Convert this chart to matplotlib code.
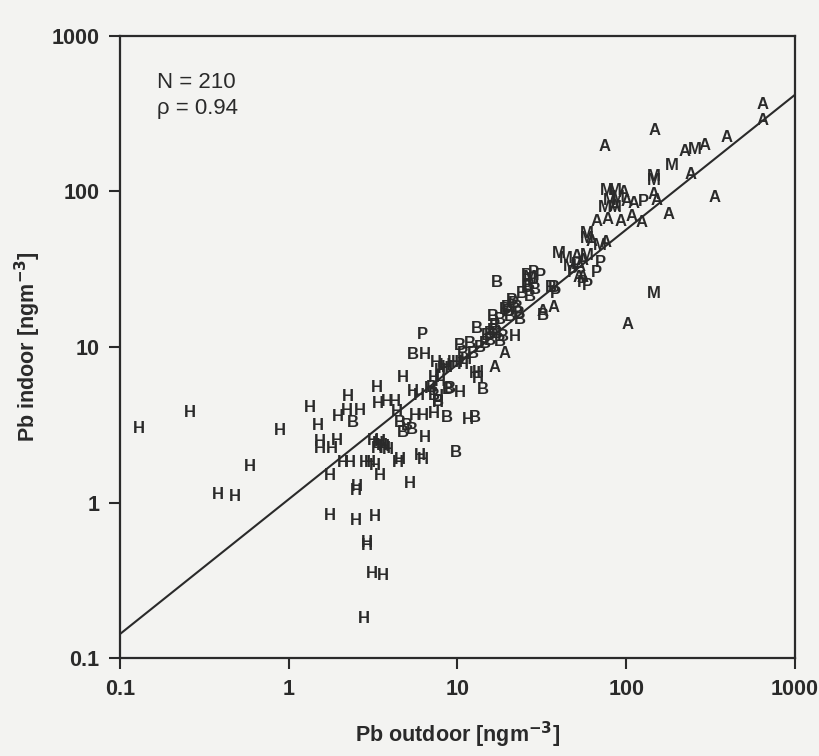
import matplotlib
matplotlib.use("Agg")
import matplotlib.pyplot as plt
from matplotlib.ticker import FixedLocator, FixedFormatter, NullLocator
import numpy as np

plt.rcParams['font.family'] = ['Liberation Sans', 'DejaVu Sans']

# ---- data (Pb outdoor, Pb indoor) per microenvironment letter ----
H_x = [0.13, 0.26, 0.38, 0.48, 0.59, 0.89, 1.34, 1.49, 1.53, 1.53, 1.80, 1.93, 1.96, 2.21, 2.64,
       2.24, 3.33, 4.75, 3.38, 3.82, 4.26, 4.38, 1.75, 2.1, 2.3, 2.83, 3.03, 3.24, 3.47, 2.54,
       5.2, 4.56, 4.44, 6.0, 6.2, 6.4, 3.16, 3.38, 3.57, 3.72, 3.87, 3.33, 5.6, 6.25, 7.2,
       5.45, 5.9, 1.75, 2.5, 3.25, 2.9, 2.9, 3.1, 3.6, 2.8, 6.4, 7.4, 7.2, 7.9, 6.9,
       7.6, 7.6, 10.3, 11.5, 13.2, 13.2, 22, 9.4, 10.8, 8.7, 7.9, 8.2, 12.7, 2.5,
       3.45, 3.65, 9.9, 11.2, 8.4]
H_y = [3.0, 3.8, 1.13, 1.1, 1.7, 2.9, 4.1, 3.15, 2.45, 2.24, 2.24, 2.52, 3.55, 3.93, 3.93,
       4.77, 5.53, 6.32, 4.36, 4.43, 4.43, 3.82, 1.50, 1.80, 1.80, 1.82, 1.80, 1.74, 1.50, 1.26,
       1.33, 1.88, 1.80, 2.02, 1.88, 2.60, 2.52, 2.41, 2.34, 2.24, 2.18, 2.24, 3.65, 3.65, 3.76,
       5.14, 4.91, 0.82, 0.77, 0.81, 0.55, 0.53, 0.35, 0.34, 0.18, 9.0, 8.0, 6.4, 6.0, 5.4,
       4.8, 4.4, 5.1, 3.4, 6.9, 6.3, 11.6, 7.9, 7.7, 7.4, 7.1, 7.3, 6.8, 1.2,
       2.45, 2.3, 8.0, 8.3, 7.6]

B_x = [2.40, 4.56, 5.02, 5.37, 4.75, 7.06, 7.6, 7.2, 8.8, 8.6, 9.0, 12.7, 9.8, 14.2, 5.45,
       13, 16.7, 17, 15.6, 10.3, 11.9, 10.8, 12.4, 13.6, 17.9, 18.6, 17, 16.2, 16.2, 15.6,
       25.8, 28, 25.8, 28.8, 27, 21, 19.6, 22.5, 20.5, 23.5, 17.9, 32, 37, 36, 20, 23,
       24, 26.5, 19, 21.5, 14.5, 15]
B_y = [3.29, 3.29, 3.15, 2.93, 2.84, 5.53, 4.43, 4.91, 5.3, 3.5, 5.4, 3.5, 2.1, 5.3, 8.9,
       13.2, 13.8, 12.3, 11, 10.3, 10.6, 9.1, 9.1, 9.9, 10.8, 11.6, 25.8, 15.6, 12.7, 12.3,
       29, 27, 24.3, 23.3, 21, 20, 18, 18, 15.6, 15, 15, 16, 24, 24.3, 17, 16.5,
       22, 25, 17.5, 19, 10.5, 11.8]

P_x = [6.2, 38, 70, 67, 59, 55, 126, 31, 51, 48, 28]
P_y = [12, 22, 35, 30, 25, 26, 86, 29, 34, 30, 30]

M_x = [255, 187, 146, 146, 77, 86, 75, 86, 58.5, 58.5, 70, 146, 80, 89, 40, 27, 58, 46, 44]
M_y = [185, 148, 124, 118, 102, 102, 79, 79, 54, 50, 45, 22, 88, 91, 40, 28, 39, 33, 37]

A_x = [640, 645, 148, 74, 395, 223, 293, 239, 336, 177, 145, 152, 96, 101, 110, 67, 78, 92,
       108, 124, 75, 102, 37, 19, 16.7, 52, 51, 55, 53, 55, 32, 62, 85]
A_y = [360, 284, 245, 196, 221, 180, 199, 128, 91, 71, 95, 88, 98, 86, 84, 64, 66, 64,
       69, 63, 47, 14, 18, 9.1, 7.4, 28, 38, 36, 33, 28, 17, 48, 80]

fit_slope = 0.867
fit_coef = 1.05
fit_range = [0.1, 1000]

n_text = "N = 210"
rho_text = "\u03c1 = 0.94"
ticks = [0.1, 1, 10, 100, 1000]
tick_labels = ["0.1", "1", "10", "100", "1000"]

bg = '#f3f3f1'
ink = '#2a2a2a'

fig = plt.figure(figsize=(8.19, 7.56), dpi=100, facecolor=bg)
ax = fig.add_axes([0.1465, 0.1296, 0.8242, 0.8228])
ax.set_facecolor(bg)
ax.set_xscale('log')
ax.set_yscale('log')
ax.set_xlim(0.1, 1000)
ax.set_ylim(0.1, 1000)

for letter, xs, ys in [('H', H_x, H_y), ('B', B_x, B_y), ('P', P_x, P_y),
                       ('M', M_x, M_y), ('A', A_x, A_y)]:
    for x, y in zip(xs, ys):
        ax.text(x, y, letter, ha='center', va='center', fontsize=12,
                color=ink, fontweight='bold', clip_on=True)

fx = np.array(fit_range)
ax.plot(fx, fit_coef * fx ** fit_slope, color=ink, lw=1.5)

for s in ax.spines.values():
    s.set_linewidth(1.6)
    s.set_color(ink)

for axis in (ax.xaxis, ax.yaxis):
    axis.set_major_locator(FixedLocator(ticks))
    axis.set_major_formatter(FixedFormatter(tick_labels))
    axis.set_minor_locator(NullLocator())
ax.tick_params(which='major', direction='out', length=8, width=1.5, color=ink,
               labelsize=15.5, labelcolor=ink, pad=7)
for lab in ax.get_xticklabels() + ax.get_yticklabels():
    lab.set_fontweight('bold')

ax.set_xlabel("Pb outdoor [ngm$^{\\mathbf{-3}}$]", fontsize=15.5, fontweight='bold', color=ink, labelpad=14)
ax.set_ylabel("Pb indoor [ngm$^{\\mathbf{-3}}$]", fontsize=15.5, fontweight='bold', color=ink, labelpad=6)

ax.text(0.055, 0.926, n_text, transform=ax.transAxes, fontsize=16, color=ink, va='center')
ax.text(0.055, 0.884, rho_text, transform=ax.transAxes, fontsize=16, color=ink, va='center')

fig.savefig("out.png", dpi=100, facecolor=bg)
